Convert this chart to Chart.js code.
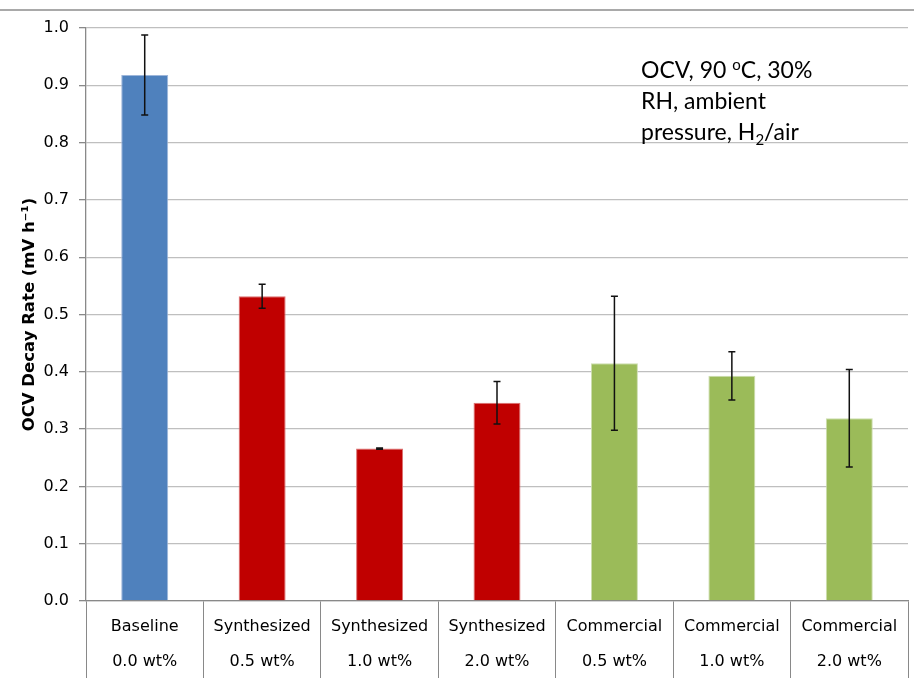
<!DOCTYPE html>
<html>
<head>
<meta charset="utf-8">
<script src="https://cdn.jsdelivr.net/npm/chart.js@4.4.1/dist/chart.umd.min.js"></script>
<style>
  html, body { margin: 0; padding: 0; background: #fff; }
  #wrap { width: 914px; height: 678px; position: relative; }
</style>
</head>
<body>
<div id="wrap"><canvas id="barChart"></canvas></div>
<script>
const categories = [
  ['Baseline', '0.0 wt%'],
  ['Synthesized', '0.5 wt%'],
  ['Synthesized', '1.0 wt%'],
  ['Synthesized', '2.0 wt%'],
  ['Commercial', '0.5 wt%'],
  ['Commercial', '1.0 wt%'],
  ['Commercial', '2.0 wt%']
];
const decayRates = [0.918, 0.532, 0.266, 0.346, 0.415, 0.393, 0.319];
const errorBars = [0.070, 0.021, 0.001, 0.037, 0.117, 0.042, 0.085];
const barColors = ['#4F81BD', '#C00000', '#C00000', '#C00000', '#9BBB59', '#9BBB59', '#9BBB59'];
const barEdges = ['#9DB6DA', '#DB7070', '#DB7070', '#DB7070', '#CCDDAE', '#CCDDAE', '#CCDDAE'];
const yTicks = [0, 0.1, 0.2, 0.3, 0.4, 0.5, 0.6, 0.7, 0.8, 0.9, 1.0];

const axisFont = '"DejaVu Sans", sans-serif';

// error bars drawn on top of bars
const errorBarPlugin = {
  id: 'errorBars',
  afterDatasetsDraw(chart) {
    const ctx = chart.ctx;
    const yScale = chart.scales.y;
    const meta = chart.getDatasetMeta(0);
    ctx.save();
    ctx.strokeStyle = '#111';
    ctx.lineWidth = 1.5;
    meta.data.forEach((bar, i) => {
      const top = yScale.getPixelForValue(decayRates[i] + errorBars[i]);
      const bottom = yScale.getPixelForValue(decayRates[i] - errorBars[i]);
      ctx.beginPath();
      ctx.moveTo(bar.x, top);
      ctx.lineTo(bar.x, bottom);
      ctx.moveTo(bar.x - 3.5, top);
      ctx.lineTo(bar.x + 3.5, top);
      ctx.moveTo(bar.x - 3.5, bottom);
      ctx.lineTo(bar.x + 3.5, bottom);
      ctx.stroke();
    });
    ctx.restore();
  }
};

// condition note + the slide's top rule
const notePlugin = {
  id: 'note',
  afterDraw(chart) {
    const ctx = chart.ctx;
    ctx.save();
    ctx.strokeStyle = '#8c8c8c';
    ctx.lineWidth = 1.5;
    ctx.beginPath();
    ctx.moveTo(0, 10);
    ctx.lineTo(chart.width, 10);
    ctx.stroke();

    const size = 23;
    const big = size + 'px Lato, "Open Sans", sans-serif';
    const small = Math.round(size * 0.65) + 'px Lato, "Open Sans", sans-serif';
    ctx.fillStyle = '#000';
    ctx.textBaseline = 'alphabetic';
    const runs = (parts, x, y) => {
      parts.forEach(([text, shift]) => {
        ctx.font = shift ? small : big;
        ctx.fillText(text, x, y + shift);
        x += ctx.measureText(text).width;
      });
    };
    runs([['OCV, 90 ', 0], ['o', -8], ['C, 30%', 0]], 641, 78);
    runs([['RH, ambient', 0]], 641, 109);
    runs([['pressure, H', 0], ['2', 5], ['/air', 0]], 641, 140);
    ctx.restore();
  }
};

new Chart(document.getElementById('barChart'), {
  type: 'bar',
  data: {
    labels: categories,
    datasets: [{
      data: decayRates,
      backgroundColor: barColors,
      borderColor: barEdges,
      borderWidth: 1,
      barPercentage: 0.4,
      categoryPercentage: 1.0
    }]
  },
  options: {
    responsive: true,
    maintainAspectRatio: false,
    animation: false,
    layout: { padding: { top: 28, right: 6, left: 0, bottom: 0 } },
    plugins: {
      legend: { display: false },
      tooltip: { enabled: false }
    },
    scales: {
      x: {
        offset: true,
        afterFit: (scale) => { scale.height = 77; },
        grid: {
          offset: true,
          drawOnChartArea: false,
          tickLength: 77,
          color: '#898989',
          lineWidth: 1
        },
        border: { color: '#898989', width: 1.3 },
        ticks: {
          color: '#000',
          padding: -68.6,
          maxRotation: 0,
          autoSkip: false,
          font: { family: axisFont, size: 16, lineHeight: 2.2 }
        }
      },
      y: {
        min: 0,
        max: 1,
        afterFit: (scale) => { scale.width = 86; },
        afterBuildTicks: (scale) => { scale.ticks = yTicks.map((v) => ({ value: v })); },
        grid: {
          color: '#BFBFBF',
          lineWidth: 1.3,
          tickLength: 7,
          tickColor: '#898989'
        },
        border: { color: '#898989', width: 1.3 },
        ticks: {
          color: '#000',
          padding: 10,
          font: { family: axisFont, size: 16 },
          callback: (value) => value.toFixed(1)
        },
        title: {
          display: true,
          text: 'OCV Decay Rate (mV h\u207B\u00B9)',
          color: '#000',
          padding: { top: 20, bottom: 0 },
          font: { family: axisFont, size: 16.5, weight: 'bold' }
        }
      }
    }
  },
  plugins: [errorBarPlugin, notePlugin]
});
</script>
</body>
</html>
